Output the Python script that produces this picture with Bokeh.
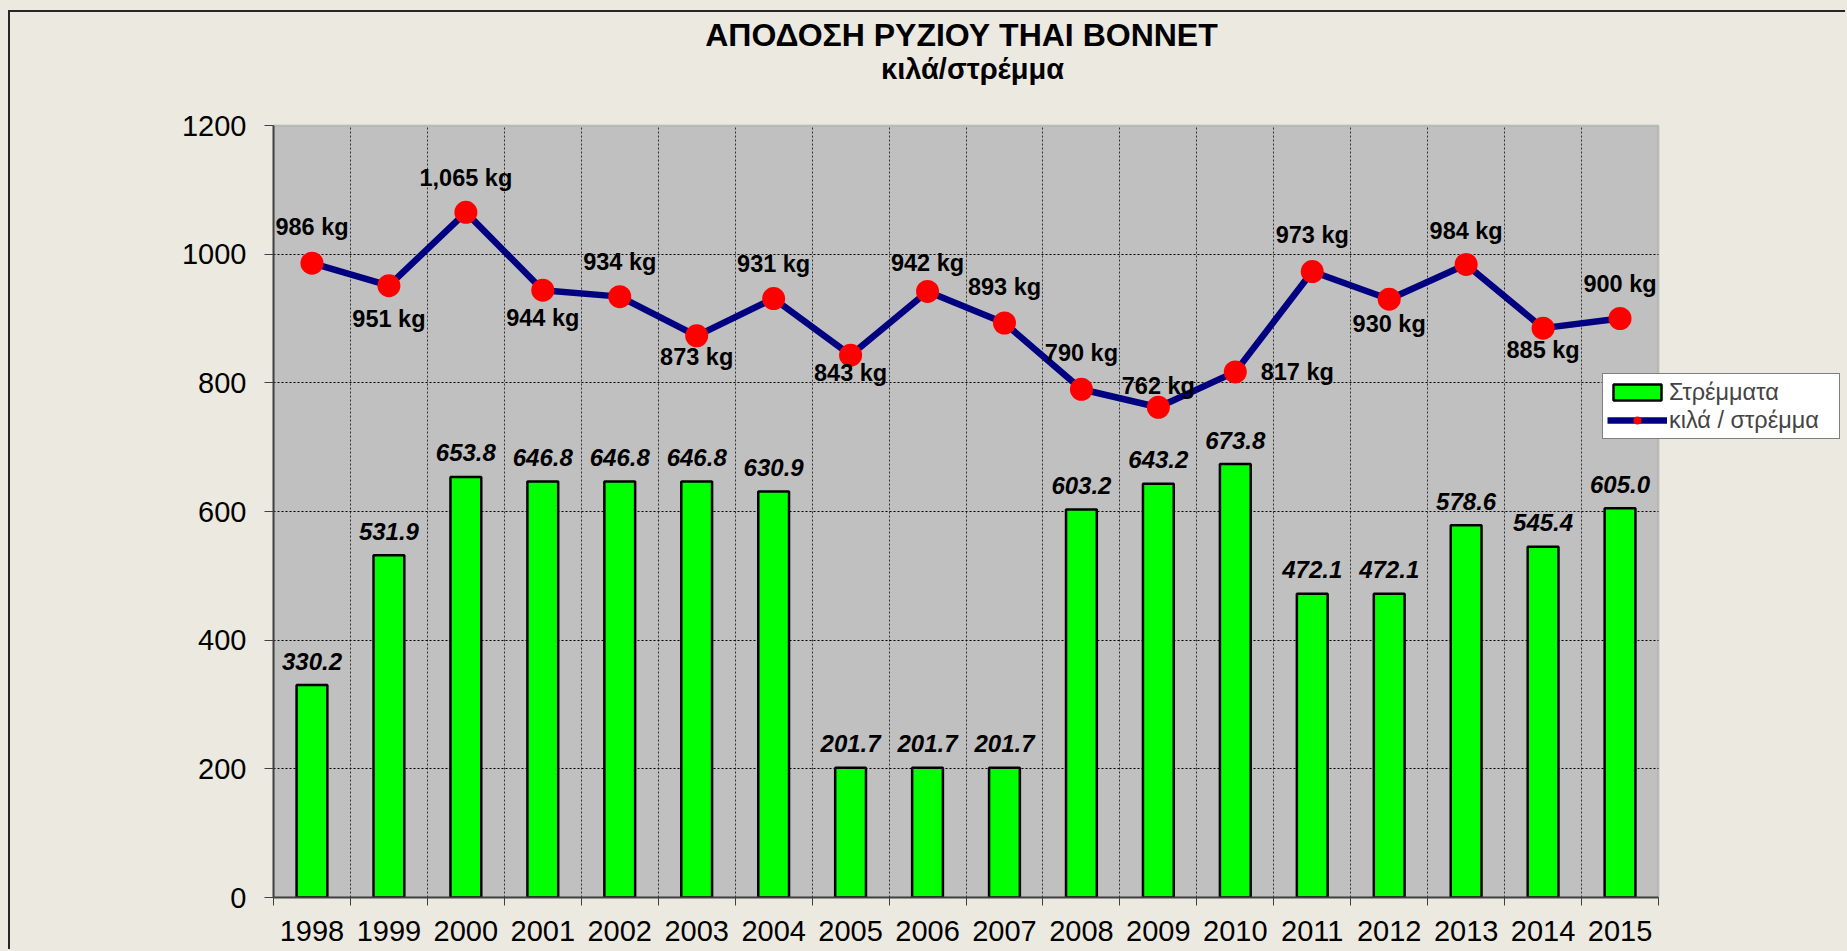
from bokeh.plotting import figure
from bokeh.models import (ColumnDataSource, FixedTicker, Label, Legend, LegendItem,
                          Range1d, BoxAnnotation)
from bokeh.embed import file_html
from bokeh.resources import INLINE
from bokeh.core.properties import value

# ---------------- data ----------------
years = ["1998", "1999", "2000", "2001", "2002", "2003", "2004", "2005", "2006",
         "2007", "2008", "2009", "2010", "2011", "2012", "2013", "2014", "2015"]
stremmata = [330.2, 531.9, 653.8, 646.8, 646.8, 646.8, 630.9, 201.7, 201.7,
             201.7, 603.2, 643.2, 673.8, 472.1, 472.1, 578.6, 545.4, 605.0]
kg_per_stremma = [986, 951, 1065, 944, 934, 873, 931, 843, 942,
                  893, 790, 762, 817, 973, 930, 984, 885, 900]
y_ticks = [0, 200, 400, 600, 800, 1000, 1200]

title_text = "ΑΠΟΔΟΣΗ ΡΥΖΙΟΥ THAI BONNET"
subtitle_text = "κιλά/στρέμμα"
bar_name = "Στρέμματα"
line_name = "κιλά / στρέμμα"

# ---------------- layout / style ----------------
lab_dx = [0, 0, 0, 0, 0, 0, 0, 0, 0, 0, 0, 0, 62, 0, 0, 0, 0, 0]
lab_up = [36, -33, 34, -28, 35, -21, 35, -18, 28, 36, 36, 21, 0, 37, -25, 33, -22, 35]

FONT = "Liberation Sans"
BG = "#ECEAE0"
CANVAS_W, CANVAS_H = 1837, 939
BORDER_L, BORDER_B = 263, 54
PLOT_W, PLOT_H = 1385, 772          # pixel size of the grey plot area

n = len(years)
frame_w = CANVAS_W - BORDER_L
frame_h = CANVAS_H - BORDER_B
x_end = n * frame_w / PLOT_W
y_end = y_ticks[-1] * frame_h / PLOT_H

centers = [i + 0.5 for i in range(n)]
src = ColumnDataSource(dict(
    x=centers,
    st=stremmata,
    kg=kg_per_stremma,
    st_lab=[f"{v:.1f}" for v in stremmata],
    kg_lab=[f"{v:,} kg" for v in kg_per_stremma],
    dx=lab_dx,
    dy=[-u for u in lab_up],
))

p = figure(width=CANVAS_W, height=CANVAS_H,
           x_range=Range1d(0, x_end), y_range=Range1d(y_ticks[0], y_end),
           output_backend="svg", toolbar_location=None,
           min_border_left=BORDER_L, min_border_right=0,
           min_border_top=0, min_border_bottom=BORDER_B,
           background_fill_color=BG, border_fill_color=BG)
p.styles = {"border-top": "2px solid #262626", "border-left": "2px solid #262626"}
p.outline_line_color = None

# grey plot area
p.add_layout(BoxAnnotation(left=0, right=n, bottom=y_ticks[0], top=y_ticks[-1],
                           fill_color="#C0C0C0", fill_alpha=1,
                           line_color="#808080", line_width=2, level="image"))

# axes
p.xaxis.ticker = FixedTicker(ticks=centers, minor_ticks=list(range(n + 1)))
p.xaxis.major_label_overrides = {c: y for c, y in zip(centers, years)}
p.xaxis.major_tick_out = 0
p.xaxis.major_tick_in = 0
p.xaxis.minor_tick_out = 8
p.xaxis.minor_tick_in = 0
p.xaxis.minor_tick_line_color = "#404040"
p.xaxis.minor_tick_line_width = 1
p.xaxis.major_label_standoff = 15
p.xaxis.bounds = (0, n)

p.yaxis.ticker = FixedTicker(ticks=y_ticks)
p.yaxis.major_tick_out = 9
p.yaxis.major_tick_in = 0
p.yaxis.major_label_standoff = 18
p.yaxis.major_tick_line_color = "#404040"
p.yaxis.bounds = (y_ticks[0], y_ticks[-1])

for ax in (p.xaxis, p.yaxis):
    ax.axis_line_color = "#404040"
    ax.axis_line_width = 2
    ax.major_label_text_font = FONT
    ax.major_label_text_font_size = "29px"
    ax.major_label_text_color = "black"

p.xgrid.ticker = FixedTicker(ticks=list(range(1, n)))
p.ygrid.ticker = FixedTicker(ticks=y_ticks[1:-1])
p.xgrid.grid_line_color = "#303030"
p.xgrid.grid_line_dash = "2 2"
p.xgrid.grid_line_width = 1
p.ygrid.grid_line_color = "black"
p.ygrid.grid_line_dash = "2 2"
p.ygrid.grid_line_width = 1
try:
    p.xgrid.cross_bounds = (y_ticks[0], y_ticks[-1])
    p.ygrid.cross_bounds = (0, n)
except Exception:
    p.xgrid.visible = False
    p.ygrid.visible = False
    vx = list(range(1, n))
    p.segment(x0=vx, x1=vx, y0=[y_ticks[0]] * len(vx), y1=[y_ticks[-1]] * len(vx),
              line_color="#303030", line_dash="2 2", line_width=1, level="underlay")
    hy = y_ticks[1:-1]
    p.segment(x0=[0] * len(hy), x1=[n] * len(hy), y0=hy, y1=hy,
              line_color="black", line_dash="2 2", line_width=1, level="underlay")

# bars
bars = p.vbar(x="x", top="st", width=0.4, source=src,
              fill_color="#00FF00", line_color="black", line_width=2.5)
p.text(x="x", y="st", text="st_lab", source=src, y_offset=-24,
       text_align="center", text_baseline="middle",
       text_font=value(FONT), text_font_style="bold italic",
       text_font_size="24px", text_color="black")

# line
line_r = p.line(x="x", y="kg", source=src, line_color="#000080", line_width=6.5)
mark_r = p.scatter(x="x", y="kg", source=src, size=23,
                   fill_color="#FF0000", line_color=None)
p.text(x="x", y="kg", text="kg_lab", source=src, x_offset="dx", y_offset="dy",
       text_align="center", text_baseline="middle",
       text_font=value(FONT), text_font_style="bold",
       text_font_size="23.5px", text_color="black")

# titles
p.add_layout(Label(x=688, y=863, x_units="screen", y_units="screen",
                   text=title_text, text_align="center", text_baseline="middle",
                   text_font=FONT, text_font_style="bold",
                   text_font_size="32px", text_color="black"))
p.add_layout(Label(x=699, y=829, x_units="screen", y_units="screen",
                   text=subtitle_text, text_align="center", text_baseline="middle",
                   text_font=FONT, text_font_style="bold",
                   text_font_size="29px", text_color="black"))

# legend
legend = Legend(items=[LegendItem(label=bar_name, renderers=[bars]),
                       LegendItem(label=line_name, renderers=[line_r, mark_r])],
                location=(1329, 458))
legend.background_fill_color = "white"
legend.background_fill_alpha = 1
legend.border_line_color = "black"
legend.border_line_width = 1
legend.label_text_font = FONT
legend.label_text_font_size = "23.5px"
legend.glyph_width = 60
legend.glyph_height = 20
legend.label_standoff = 2
legend.padding = 4
legend.spacing = 0
legend.margin = 0
legend.label_height = 28
legend.label_width = 166
p.add_layout(legend)

html = file_html(p, INLINE)
html = html.replace(
    "</head>",
    "<style>html,body{background:%s;overflow:hidden;}body{padding:10px 0 0 8px;}</style></head>" % BG,
    1)
open("out.html", "w").write(html)
